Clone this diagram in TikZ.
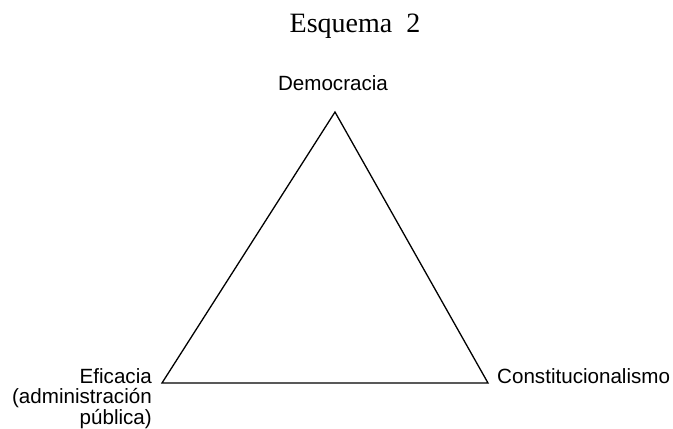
\documentclass[tikz,border=0pt]{standalone}
\usepackage{fontspec}
\setmainfont{Liberation Serif}
\setsansfont{Liberation Sans}
\tikzset{lbl/.style={font=\sffamily\fontsize{20.6}{20.5}\selectfont,inner sep=0pt}}
\begin{document}
\begin{tikzpicture}[x=1pt,y=-1pt]
 \useasboundingbox (0,0) rectangle (673,429);
 \node (ttl) at (355,32) [anchor=base,inner sep=0pt,font=\fontsize{28}{32}\selectfont] {Esquema\ \ 2};
 \coordinate (vrtx 1) at (335,112);
 \coordinate (vrtx 2) at (162,383);
 \coordinate (vrtx 3) at (488,383);
 \node (lbl 1) at (333,90) [lbl,anchor=base] {Democracia};
 \node (lbl 2) at (152,424) [lbl,anchor=base east,align=right] {Eficacia\\(administración\\pública)};
 \node (lbl 3) at (497,383) [lbl,anchor=base west] {Constitucionalismo};
 \draw[line width=1.3pt] (vrtx 1) -- (vrtx 2) -- (vrtx 3) -- cycle;
\end{tikzpicture}
\end{document}
